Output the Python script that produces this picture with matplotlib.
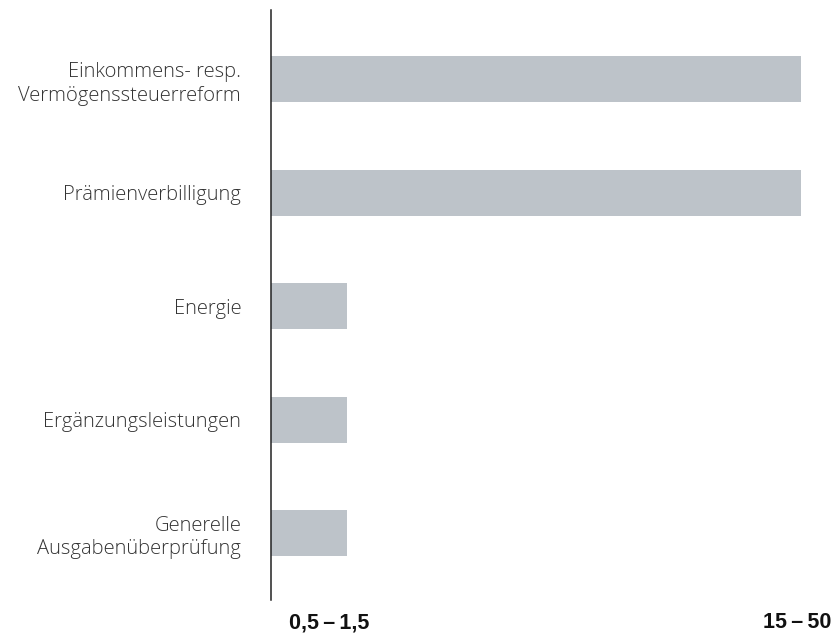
import matplotlib
matplotlib.use("Agg")
import matplotlib.pyplot as plt

# Measures and their estimated effect range (ordinal level on the x axis)
categories = [
    "Einkommens- resp.\nVermögenssteuerreform",
    "Prämienverbilligung",
    "Energie",
    "Ergänzungsleistungen",
    "Generelle\nAusgabenüberprüfung",
]
levels = [7, 7, 1, 1, 1]
level_labels = ["0,5\u2009\u2013\u20091,5", "15\u2009\u2013\u200950"]
level_tick_pos = [0.77, 6.95]

bar_color = "#BDC3C9"

fig = plt.figure(figsize=(8.38, 6.36), dpi=100)
W, H = 838, 636
ax = fig.add_axes([271 / W, 36 / H, 560 / W, 590 / H])

y = list(range(len(categories)))
ax.barh(y, levels, height=0.405, color=bar_color, zorder=2)

ax.set_ylim(4.59, -0.61)
ax.set_xlim(0, 560 / 75.7)

ax.set_yticks(y)
ax.set_yticklabels(categories, fontsize=14.5, color="#333333",
                   family=["Open Sans", "DejaVu Sans"], fontweight="light",
                   linespacing=1.26)
ax.tick_params(axis="y", length=0, pad=21.5)

ax.set_xticks(level_tick_pos)
ax.set_xticklabels(level_labels, fontsize=15.5, fontweight="bold",
                   color="#111111", family=["Liberation Sans", "DejaVu Sans"])
ax.tick_params(axis="x", length=0, pad=9)

for side in ["top", "right", "bottom"]:
    ax.spines[side].set_visible(False)
ax.spines["left"].set_color("#222222")
ax.spines["left"].set_linewidth(1.1)

fig.savefig("out.png", dpi=100)
